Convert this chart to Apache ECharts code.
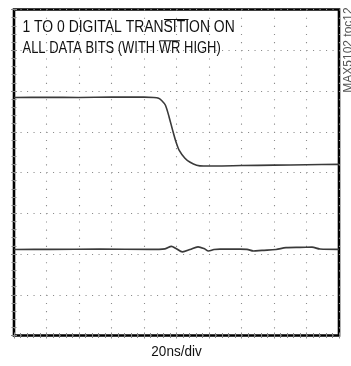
<!DOCTYPE html>
<html>
<head>
<meta charset="utf-8">
<script src="https://cdn.jsdelivr.net/npm/echarts@6/dist/echarts.min.js"></script>
<style>
  html, body { margin: 0; padding: 0; background: #fff; }
  #chart { width: 351px; height: 366px; }
</style>
</head>
<body>
<div id="chart"></div>
<script>
// Scope graticule: 10 horizontal x 8 vertical divisions
const xDivisions = 10;
const yDivisions = 8;

// Upper trace (data bit input), in divisions: [time, level]
const digitalTrace = [
  [0, 5.84], [1, 5.845], [2, 5.84], [3, 5.85], [4, 5.85], [4.3, 5.84],
  [4.45, 5.82], [4.55, 5.76], [4.66, 5.65], [4.77, 5.37], [4.88, 5.04],
  [4.98, 4.76], [5.08, 4.55], [5.26, 4.35], [5.42, 4.25], [5.62, 4.18],
  [5.83, 4.16], [6.2, 4.16], [7, 4.17], [8, 4.18], [9, 4.19], [10, 4.2]
];

// Lower trace (DAC output feedthrough), in divisions: [time, level]
const outputTrace = [
  [0, 2.11], [1.108, 2.115], [2.646, 2.118], [4.185, 2.115], [4.646, 2.128],
  [4.846, 2.189], [4.985, 2.135], [5.185, 2.054], [5.415, 2.11], [5.662, 2.177],
  [5.846, 2.135], [5.985, 2.074], [6.154, 2.11], [6.338, 2.118], [6.954, 2.118],
  [7.169, 2.113], [7.369, 2.074], [7.631, 2.091], [8.062, 2.11], [8.369, 2.157],
  [8.8, 2.164], [9.169, 2.167], [9.415, 2.123], [9.969, 2.115], [10, 2.115]
];

const titleLines = ['1 TO 0 DIGITAL TRANSITION ON', 'ALL DATA BITS (WITH WR HIGH)'];
const timeBaseLabel = '20ns/div';
const figureTag = 'MAX5102 toc12';

const chart = echarts.init(document.getElementById('chart'), null, { renderer: 'canvas' });

const tickStyle = { show: true, inside: true, length: 3, lineStyle: { color: '#888', width: 1 } };
const minorStyle = { show: true, splitNumber: 5, length: 2.5, lineStyle: { color: '#888', width: 1 } };

function xAxisDef(pos, grid) {
  return {
    type: 'value', min: 0, max: xDivisions, interval: 1, position: pos,
    axisLine: { show: false }, axisLabel: { show: false },
    axisTick: tickStyle, minorTick: minorStyle,
    splitLine: grid ? { show: true, lineStyle: { color: '#8c8c8c', width: 1.1, type: [1.1, 7.05] } } : { show: false }
  };
}
function yAxisDef(pos, grid) {
  return {
    type: 'value', min: 0, max: yDivisions, interval: 1, position: pos,
    axisLine: { show: false }, axisLabel: { show: false },
    axisTick: tickStyle, minorTick: minorStyle,
    splitLine: grid ? { show: true, lineStyle: { color: '#8c8c8c', width: 1.1, type: [1.1, 5.4] } } : { show: false }
  };
}

const fontFamily = '"Liberation Sans", Arial, sans-serif';
const captionFont = '16px ' + fontFamily;

// measure a piece of caption text so the overbars sit over the right letters
const measureCtx = document.createElement('canvas').getContext('2d');
function textWidth(str, f) {
  measureCtx.font = f;
  return measureCtx.measureText(str).width;
}

const cap1 = { x: 22.5, y: 27.5, scale: 0.87 };
const cap2 = { x: 22.5, y: 48.5, scale: 0.81 };

function overbar(line, text, before, span, yBar) {
  const x1 = line.x + line.scale * textWidth(before, captionFont);
  const x2 = line.x + line.scale * textWidth(before + span, captionFont);
  return {
    type: 'line', z: 10,
    shape: { x1: x1 + 0.5, y1: yBar, x2: x2 - 0.5, y2: yBar },
    style: { stroke: '#111', lineWidth: 1 }
  };
}

chart.setOption({
  animation: false,
  backgroundColor: '#fff',
  grid: {
    left: 14, top: 9.5, width: 325, height: 326,
    show: true, borderColor: '#000', borderWidth: 2.6, backgroundColor: 'transparent'
  },
  xAxis: [xAxisDef('bottom', true), xAxisDef('top', false)],
  yAxis: [yAxisDef('left', true), yAxisDef('right', false)],
  series: [
    {
      type: 'line', data: digitalTrace, showSymbol: false, smooth: 0.25,
      lineStyle: { color: '#3a3a3a', width: 1.6 }, z: 5
    },
    {
      type: 'line', data: outputTrace, showSymbol: false, smooth: 0.3,
      lineStyle: { color: '#3a3a3a', width: 1.7 }, z: 5
    }
  ],
  graphic: [
    {
      type: 'text', x: cap1.x, y: cap1.y, scaleX: cap1.scale, z: 10,
      style: { text: titleLines[0], font: captionFont, fill: '#111', verticalAlign: 'middle', align: 'left' }
    },
    {
      type: 'text', x: cap2.x, y: cap2.y, scaleX: cap2.scale, z: 10,
      style: { text: titleLines[1], font: captionFont, fill: '#111', verticalAlign: 'middle', align: 'left' }
    },
    overbar(cap1, titleLines[0], '1 TO 0 DIGITAL TRAN', 'SITI', 19.5),
    overbar(cap2, titleLines[1], 'ALL DATA BITS (WITH ', 'WR', 40.8),
    {
      type: 'text', x: 176.5, y: 352, scaleX: 0.9, z: 10,
      style: { text: timeBaseLabel, font: '15px ' + fontFamily, fill: '#111', verticalAlign: 'middle', align: 'center' }
    },
    {
      type: 'text', x: 348.8, y: 50, rotation: Math.PI / 2, z: 10,
      style: { text: figureTag, font: '12px ' + fontFamily, fill: '#555', verticalAlign: 'middle', align: 'center' }
    }
  ]
});
</script>
</body>
</html>
